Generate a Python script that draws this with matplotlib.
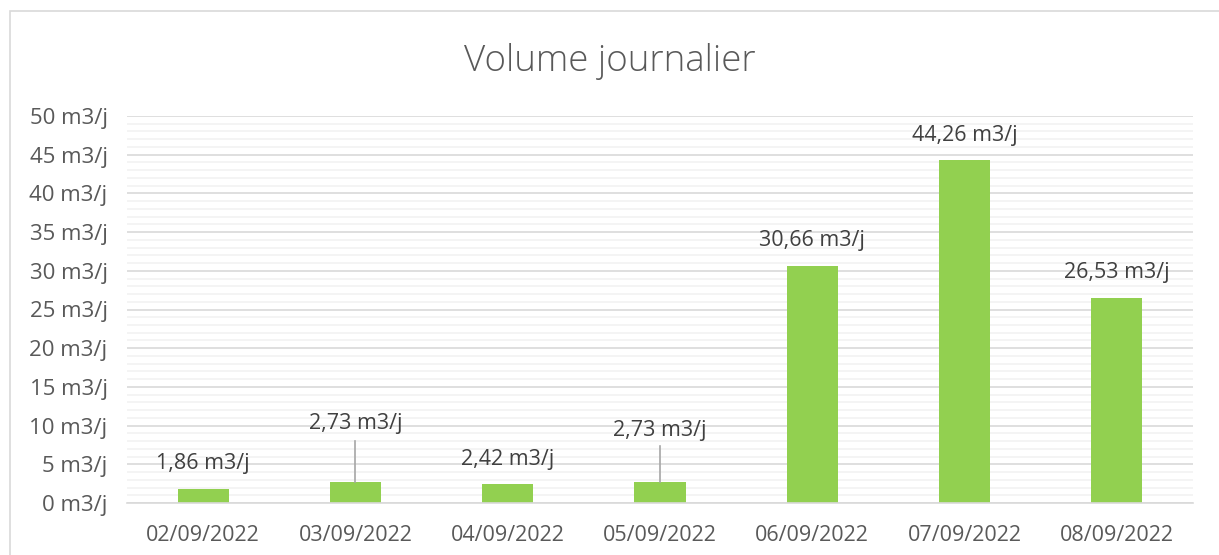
import matplotlib.pyplot as plt
from matplotlib.ticker import MultipleLocator, FuncFormatter
from matplotlib.patches import Rectangle

# Data
dates = ['02/09/2022', '03/09/2022', '04/09/2022', '05/09/2022',
         '06/09/2022', '07/09/2022', '08/09/2022']
volumes = [1.86, 2.73, 2.42, 2.73, 30.66, 44.26, 26.53]
# label positions moved by hand in the original (y in m3/j), None = default
label_y = [None, 10.3, None, 9.4, None, None, None]
leader_top = [None, 8.0, None, 7.4, None, None, None]

plt.rcParams['font.family'] = ['Open Sans', 'DejaVu Sans']
text_color = '#595959'
bar_color = '#92D050'

fig = plt.figure(figsize=(12.19, 5.55), dpi=100)
ax = fig.add_axes([127 / 1219, 1 - 503 / 555, 1066 / 1219, 387 / 555])

# chart border
fig.patches.append(Rectangle((10 / 1219, -0.1), 1.2, 1 - 11 / 555 + 0.1,
                             transform=fig.transFigure, fill=False,
                             edgecolor='#D9D9D9', linewidth=1.2))

x = range(len(dates))
ax.bar(x, volumes, width=0.335, color=bar_color, zorder=3)

ax.set_xlim(-0.5, len(dates) - 0.5)
ax.set_ylim(0, 50)
ax.yaxis.set_major_locator(MultipleLocator(5))
ax.yaxis.set_minor_locator(MultipleLocator(1))
ax.yaxis.set_major_formatter(FuncFormatter(lambda v, p: f'{v:.0f} m3/j'))
ax.grid(which='major', axis='y', color='#D9D9D9', linewidth=1.2, zorder=0)
ax.grid(which='minor', axis='y', color='#F2F2F2', linewidth=1.2, zorder=0)
ax.set_axisbelow(True)

for s in ['top', 'right', 'left']:
    ax.spines[s].set_visible(False)
ax.spines['bottom'].set_color('#D9D9D9')
ax.spines['bottom'].set_linewidth(1.2)
ax.spines['bottom'].set_zorder(4)

ax.set_xticks(list(x))
ax.set_xticklabels(dates)
ax.tick_params(axis='both', which='both', length=0, labelcolor=text_color)
ax.tick_params(axis='y', pad=14, labelsize=16)
ax.tick_params(axis='x', pad=16, labelsize=15.5)

for i, v in enumerate(volumes):
    txt = f'{v:.2f}'.replace('.', ',') + ' m3/j'
    if label_y[i] is None:
        ax.annotate(txt, (i, v), xytext=(0, 18), textcoords='offset points',
                    ha='center', va='center', fontsize=15.5, color='#404040')
    else:
        ax.plot([i, i], [v, leader_top[i]], color='#A6A6A6', linewidth=1.2,
                zorder=4)
        ax.text(i, label_y[i], txt, ha='center', va='center', fontsize=15.5,
                color='#404040')

fig.text(0.5, 1 - 62 / 555, 'Volume journalier', ha='center', va='center',
         fontsize=26.5, color=text_color, fontweight='light')

fig.savefig('out.png', dpi=100)
